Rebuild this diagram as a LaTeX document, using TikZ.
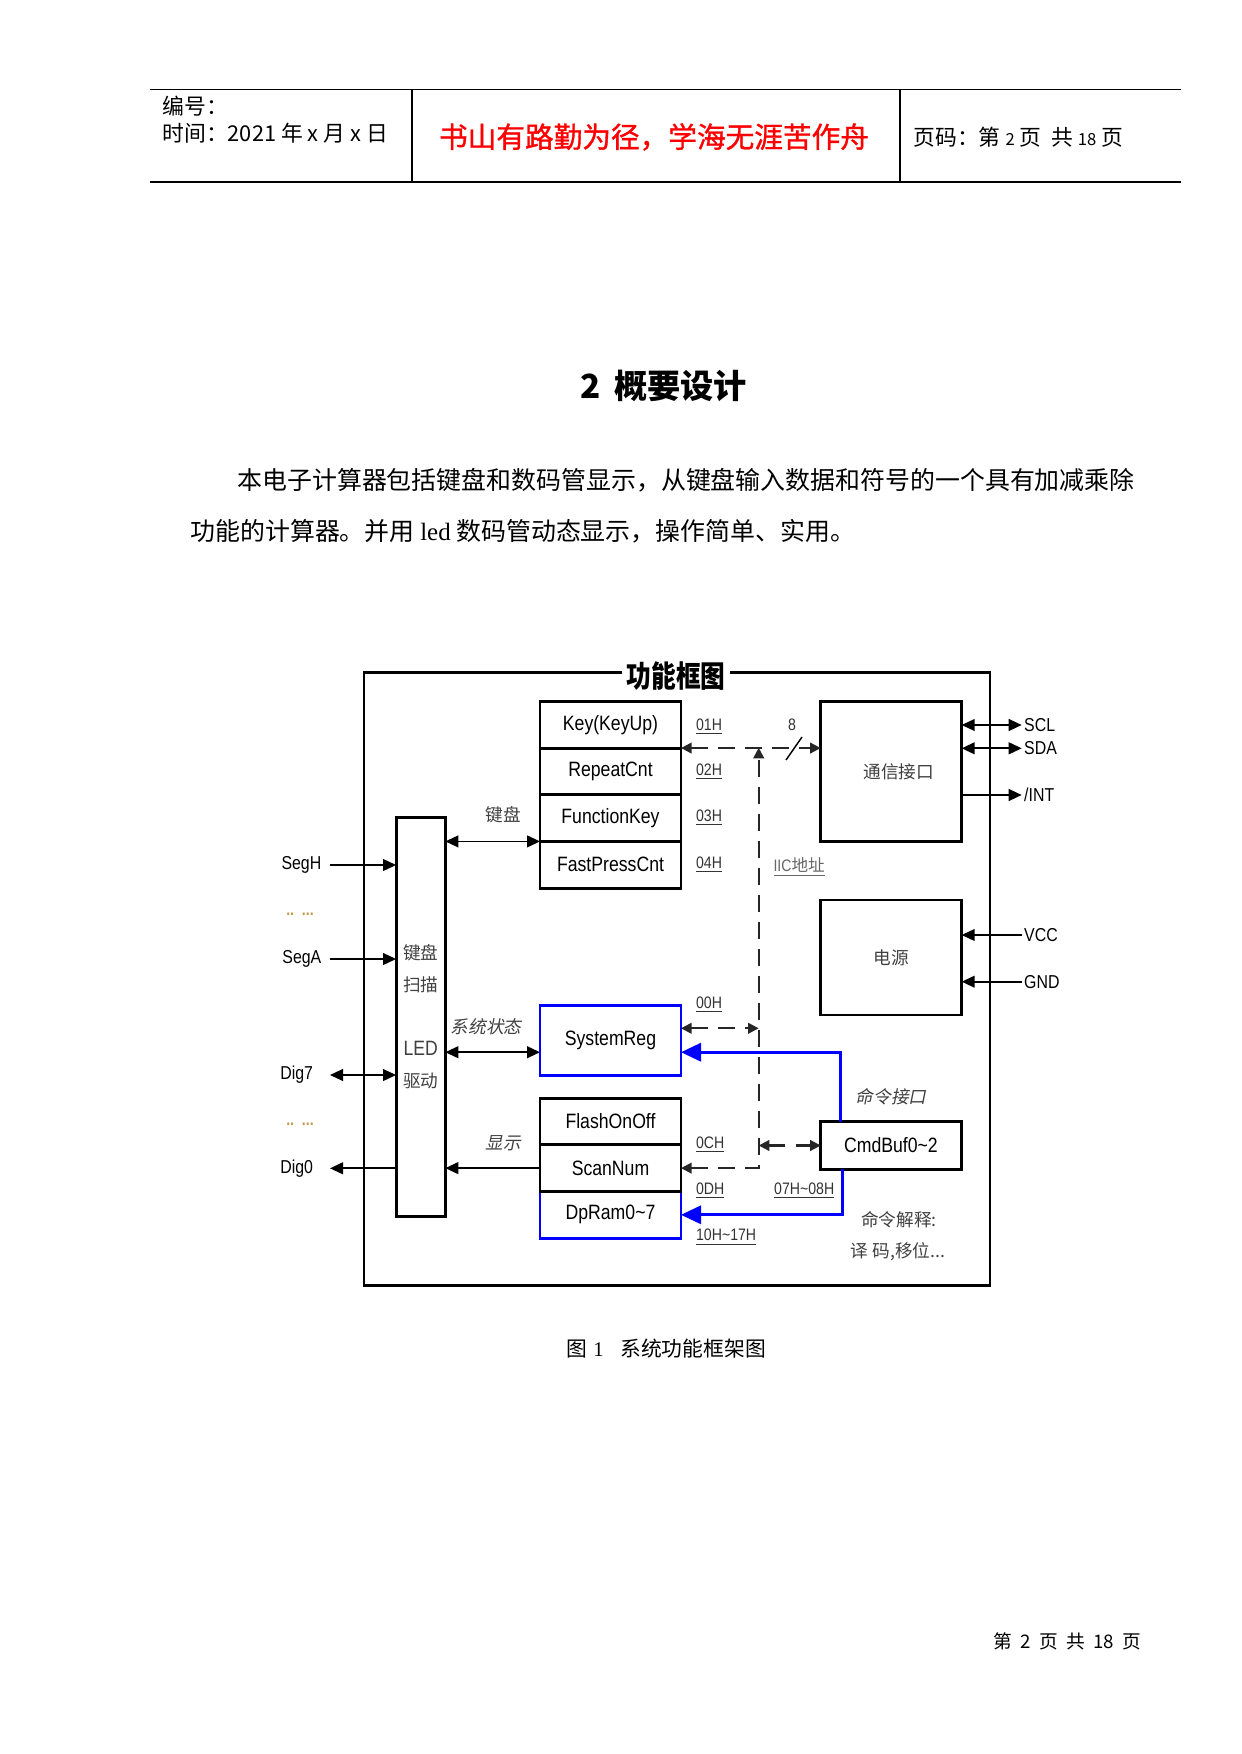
\documentclass[tikz,border=0pt]{standalone}
\usepackage{fontspec}
\setmainfont{Noto Sans CJK SC}
\newfontfamily\cjk{Noto Sans CJK SC}
\newfontfamily\cjkheavy[FakeBold=1.2]{Noto Sans CJK SC}
\newfontfamily\cjktall[FakeStretch=0.82]{Noto Sans CJK SC}
\newfontfamily\cjkit[FakeSlant=0.2]{Noto Sans CJK SC}
\newfontfamily\dg[FakeStretch=0.85]{Liberation Sans}
\newfontfamily\rmlatin{Liberation Serif}
\usetikzlibrary{arrows.meta,positioning}
\definecolor{dotcol}{RGB}{190,150,70}

\begin{document}
\begin{tikzpicture}[
  x=0.16922mm, y=-0.16922mm,
  >={Triangle[length=2.2mm,width=2mm]},
  reg/.style={draw, line width=1.4pt, outer sep=0pt, inner sep=0pt, minimum width=23.86mm, minimum height=7.9mm, font=\dg\fontsize{10}{12}\selectfont},
  blk/.style={draw, line width=1.4pt, outer sep=0pt, inner sep=0pt},
  lbl/.style={font=\dg\fontsize{9}{11}\selectfont, inner ysep=1pt},
  hex/.style={font=\dg\fontsize{8}{10}\selectfont, text=black!80, inner sep=1pt},
  cn/.style={font=\cjk\fontsize{8.5}{10}\selectfont, text=black!75, inner sep=1pt},
  cnit/.style={font=\cjkit\fontsize{8.5}{10}\selectfont, text=black!75, inner sep=1pt},
  arr/.style={line width=0.8pt},
  dline/.style={line width=1pt, black!85, dash pattern=on 8pt off 5pt},
  dtips/.style={{Triangle[length=1.8mm,width=1.8mm]}-{Triangle[length=1.8mm,width=1.8mm]}},
  barr/.style={-{Triangle[length=3.4mm,width=3.1mm]}, draw=blue, line width=1.3pt}
]
\useasboundingbox (0,0) rectangle (1241,1754);

% page header
\draw[line width=0.7pt] (150,89.5) -- (1181,89.5);
\draw[line width=0.7pt] (150,182) -- (1181,182);
\draw[line width=0.7pt] (412,89.5) -- (412,182);
\draw[line width=0.7pt] (900,89.5) -- (900,182);
\node[anchor=west, inner sep=0pt, font=\cjk\fontsize{10.5}{12}\selectfont] (hno) at (162,106) {编号：};
\node[anchor=west, inner sep=0pt, font=\cjk\fontsize{10.5}{12}\selectfont] (htime) at (162,133) {时间：2021 年 x 月 x 日};
\node[font=\cjkheavy\fontsize{13.8}{16}\selectfont, text=red] (motto) at (654,137) {书山有路勤为径，学海无涯苦作舟};
\node[anchor=west, inner sep=0pt, font=\cjk\fontsize{10.5}{12}\selectfont] (hpage) at (913,137) {页码：第 {\fontsize{8}{9}\selectfont 2} 页\ \ 共 {\fontsize{8}{9}\selectfont 18} 页};

% section title and text
\node[font=\cjk\bfseries\fontsize{16}{18}\selectfont] (title) at (664,386) {2\hspace{0.4em}概要设计};
\node[anchor=west, inner sep=0pt, font=\cjk\fontsize{12}{14}\selectfont] (para1) at (237,480) {本电子计算器包括键盘和数码管显示，从键盘输入数据和符号的一个具有加减乘除};
\node[anchor=west, inner sep=0pt, font=\cjk\fontsize{12}{14}\selectfont] (para2) at (190,531) {功能的计算器。并用 {\rmlatin led} 数码管动态显示，操作简单、实用。};

% frame
\node[blk, minimum width=105.93mm, minimum height=103.73mm] (frame) at (677,979) {};
\node[fill=white, inner xsep=2pt, inner ysep=0pt, font=\cjktall\bfseries\fontsize{14.5}{16}\selectfont] (ftitle) at (676,676) {功能框图};

% registers
\node[reg] (key) at (610.5,724.7) {Key(KeyUp)};
\node[reg, below=0pt of key] (rep) {RepeatCnt};
\node[reg, below=0pt of rep] (fkey) {FunctionKey};
\node[reg, below=0pt of fkey] (fast) {FastPressCnt};
\node[reg, draw=blue, minimum height=11.96mm] (sysreg) at (610.5,1040.4) {SystemReg};
\node[reg, draw=blue] (dpram) at (610.5,1214.8) {DpRam0\textasciitilde 7};
\node[reg, above=0pt of dpram] (scan) {ScanNum};
\node[reg, above=0pt of scan] (flash) {FlashOnOff};

% blocks
\node[blk, minimum width=8.34mm, minimum height=67.47mm, align=center, font=\cjk\fontsize{8.5}{15.3}\selectfont, text=black!75] (drv) at (420.7,1016.7) {键盘\\扫描\\[15.3pt]{\dg\fontsize{10}{15.3}\selectfont LED}\\驱动};
\node[blk, minimum width=23.86mm, minimum height=23.69mm, font=\cjk\fontsize{8.5}{10}\selectfont, text=black!75] (comm) at (891.2,771.7) {\hspace{2.6mm}通信接口};
\node[blk, minimum width=23.86mm, minimum height=19.46mm, font=\cjk\fontsize{8.5}{10}\selectfont, text=black!75] (pwr) at (891.2,957.5) {电源};
\node[blk, minimum width=23.74mm, minimum height=8.05mm, font=\dg\fontsize{10}{12}\selectfont] (cmd) at (890.9,1145.5) {CmdBuf0\textasciitilde 2};

% pins
\node[lbl, anchor=east, inner xsep=4pt] (segh) at (330,865) {SegH};
\node[lbl, anchor=east, inner xsep=4pt] (sega) at (330,959) {SegA};
\node[lbl, anchor=east, inner xsep=8pt] (dig7) at (330,1075) {Dig7};
\node[lbl, anchor=east, inner xsep=8pt] (dig0) at (330,1168.3) {Dig0};
\node[font=\dg\bfseries\fontsize{8}{9}\selectfont, text=dotcol] (dots1) at (300,914) {..\ \ ...};
\node[font=\dg\bfseries\fontsize{8}{9}\selectfont, text=dotcol] (dots2) at (300,1124) {..\ \ ...};
\node[lbl, anchor=west, inner xsep=1pt] (scl) at (1021.7,725) {SCL};
\node[lbl, anchor=west, inner xsep=1pt] (sda) at (1021.7,748.3) {SDA};
\node[lbl, anchor=west, inner xsep=1pt] (int) at (1021.7,795) {/INT};
\node[lbl, anchor=west, inner xsep=1pt] (vcc) at (1021.7,935) {VCC};
\node[lbl, anchor=west, inner xsep=1pt] (gnd) at (1021.7,981.7) {GND};

\draw[arr,->] (segh.east) -- (segh.east -| drv.west);
\draw[arr,->] (sega.east) -- (sega.east -| drv.west);
\draw[arr,<->] (dig7.east) -- (dig7.east -| drv.west);
\draw[arr,->] (dig0.east -| drv.west) -- (dig0.east);
\draw[arr,<->] (scl.west -| comm.east) -- (scl.west);
\draw[arr,<->] (sda.west -| comm.east) -- (sda.west);
\draw[arr,->] (int.west -| comm.east) -- (int.west);
\draw[arr,->] (vcc.west) -- (vcc.west -| pwr.east);
\draw[arr,->] (gnd.west) -- (gnd.west -| pwr.east);

% internal buses
\coordinate (sysL) at ([yshift=-2mm]sysreg.west);
\coordinate (sysR) at ([yshift=-2mm]sysreg.east);
\coordinate (sysD) at ([yshift=2.05mm]sysreg.east);
\draw[arr,<->] (drv.east |- fkey.south) -- (fkey.south west);
\draw[arr,<->] (drv.east |- sysL) -- (sysL);
\draw[arr,->] (scan.west) -- (scan.west -| drv.east);
\node[cn] (kbd) at (503,815) {键盘};
\node[cnit] (state) at (486,1027) {系统状态};
\node[cnit] (disp) at (503,1143) {显示};

% IIC address lines
\coordinate (busx) at (758.7,747.7);
\draw[dline, dtips] (key.south east) -- (key.south east -| comm.west);
\draw[dline, dtips] (scan.east) -| (busx);
\draw[dline, dtips] (sysD) -- (sysD -| busx);
\draw[dline, dtips] (cmd.west -| busx) -- (cmd.west);
\node[hex] (eight) at (792,725) {8};
\draw[line width=0.7pt] (786,760) -- (802,737);

% command interface
\coordinate (cmdup) at ([xshift=-8.49mm]cmd.north);
\coordinate (cmddn) at ([xshift=-8.16mm]cmd.south);
\draw[barr] (cmdup) |- (sysR);
\draw[barr] (cmddn) |- (dpram.east);
\node[cnit] (cmdif) at (891,1097) {命令接口};
\node[cn] (cmdex1) at (899,1220) {命令解释:};
\node[cn] (cmdex2) at (898,1252) {译 码,移位...};

% addresses
\node[hex, anchor=west] (h01) at (693.6,726.7) {\underline{01H}};
\node[hex, anchor=west] (h02) at (693.6,771.7) {\underline{02H}};
\node[hex, anchor=west] (h03) at (693.6,818) {\underline{03H}};
\node[hex, anchor=west] (h04) at (693.6,865) {\underline{04H}};
\node[hex, anchor=west] (h00) at (693.6,1005) {\underline{00H}};
\node[hex, anchor=west] (h0c) at (693.6,1145) {\underline{0CH}};
\node[hex, anchor=west] (h0d) at (693.6,1190.7) {\underline{0DH}};
\node[hex, anchor=west] (h78) at (771.7,1190.7) {\underline{07H\textasciitilde 08H}};
\node[hex, anchor=west] (h1017) at (693.6,1237.3) {\underline{10H\textasciitilde 17H}};
\node[hex, anchor=west, text=black!60] (iic) at (771,866.7) {\underline{IIC{\cjk 地址}}};

% caption and footer
\node[anchor=west, inner sep=0pt, font=\cjk\fontsize{10}{12}\selectfont] (cap) at (566,1349) {图\hspace{3pt}{\rmlatin 1}\hspace{8pt}系统功能框架图};
\node[anchor=west, inner sep=0pt, font=\cjk\fontsize{9}{11}\selectfont] (foot) at (993,1641) {第\hspace{4pt}2\hspace{4pt}页\hspace{4pt}共\hspace{4pt}18\hspace{4pt}页};
\end{tikzpicture}
\end{document}
